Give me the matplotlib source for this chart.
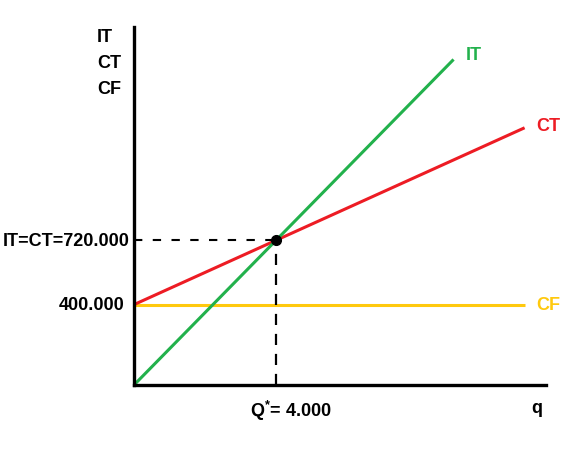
import numpy as np
import matplotlib
matplotlib.use('Agg')
import matplotlib.pyplot as plt

plt.rcParams['font.family'] = ['Liberation Sans', 'DejaVu Sans']
plt.rcParams['font.weight'] = 'bold'
plt.rcParams['mathtext.fontset'] = 'custom'
plt.rcParams['mathtext.rm'] = 'Liberation Sans:bold'
plt.rcParams['mathtext.it'] = 'Liberation Sans:bold'
plt.rcParams['mathtext.bf'] = 'Liberation Sans:bold'

# datos del modelo (q en miles)
q_eq = 4
y_eq = 720
cf_val = 400
it_q = [0, 9]
it_v = [0, 1620]
ct_q = [0, 11]
ct_v = [400, 1280]
cf_q = [0, 11]
cf_v = [400, 400]

verde = '#22b14c'
rojo = '#ed1c24'
amarillo = '#ffc90e'

fig = plt.figure(figsize=(5.81, 4.60), dpi=100)
ax = fig.add_axes([0.2306, 0.1609, 0.709, 0.778])

ax.plot(cf_q, cf_v, color=amarillo, linewidth=2.2, solid_capstyle='butt')
ax.plot(ct_q, ct_v, color=rojo, linewidth=2.2, solid_capstyle='butt')
ax.plot(it_q, it_v, color=verde, linewidth=2.2, solid_capstyle='butt')

# lineas punteadas al equilibrio
ax.plot([0, q_eq], [y_eq, y_eq], color='black', linestyle=(0, (4, 5)), linewidth=1.5)
ax.plot([q_eq, q_eq], [0, y_eq], color='black', linestyle=(0, (5, 4)), linewidth=1.6)
ax.plot(q_eq, y_eq, 'o', color='black', markersize=7, zorder=5)

ax.set_xlim(0, 11.6)
ax.set_ylim(0, 1781)
ax.set_xticks([])
ax.set_yticks([])
for s in ['top', 'right']:
    ax.spines[s].set_visible(False)
for s in ['left', 'bottom']:
    ax.spines[s].set_linewidth(2.4)

fs = 13

# etiquetas de las lineas
ax.annotate('IT', (it_q[1], it_v[1]), xytext=(8.6, 3.5), textcoords='offset points',
            color=verde, fontsize=fs, fontweight='bold', va='center', ha='left')
ax.annotate('CT', (ct_q[1], ct_v[1]), xytext=(8.6, 2), textcoords='offset points',
            color=rojo, fontsize=fs, fontweight='bold', va='center', ha='left')
ax.annotate('CF', (cf_q[1], cf_v[1]), xytext=(8.6, 0), textcoords='offset points',
            color=amarillo, fontsize=fs, fontweight='bold', va='center', ha='left')

# etiquetas del eje y
ax.annotate('IT=CT=720.000', (0, y_eq), xycoords=('axes fraction', 'data'),
            xytext=(-3, 0), textcoords='offset points', ha='right', va='center',
            fontsize=fs, fontweight='bold')
ax.annotate('400.000', (0, cf_val), xycoords=('axes fraction', 'data'),
            xytext=(-6.5, 0), textcoords='offset points', ha='right', va='center',
            fontsize=fs, fontweight='bold')

for i, t in enumerate(['IT', 'CT', 'CF']):
    fig.text(97 / 581, 1 - (38 + 25.5 * i) / 460, t, ha='left', va='center',
             fontsize=fs, fontweight='bold')

# etiquetas del eje x
ax.annotate('Q$^{*}$= 4.000', (q_eq, 0), xycoords='data', xytext=(-18.7, -22.5),
            textcoords='offset points', ha='left', va='baseline',
            fontsize=fs, fontweight='bold')
ax.annotate('q', (1, 0), xycoords='axes fraction', xytext=(-6.5, -16.5), textcoords='offset points',
            ha='center', va='center', fontsize=fs, fontweight='bold')

fig.savefig('out.png', dpi=100)
